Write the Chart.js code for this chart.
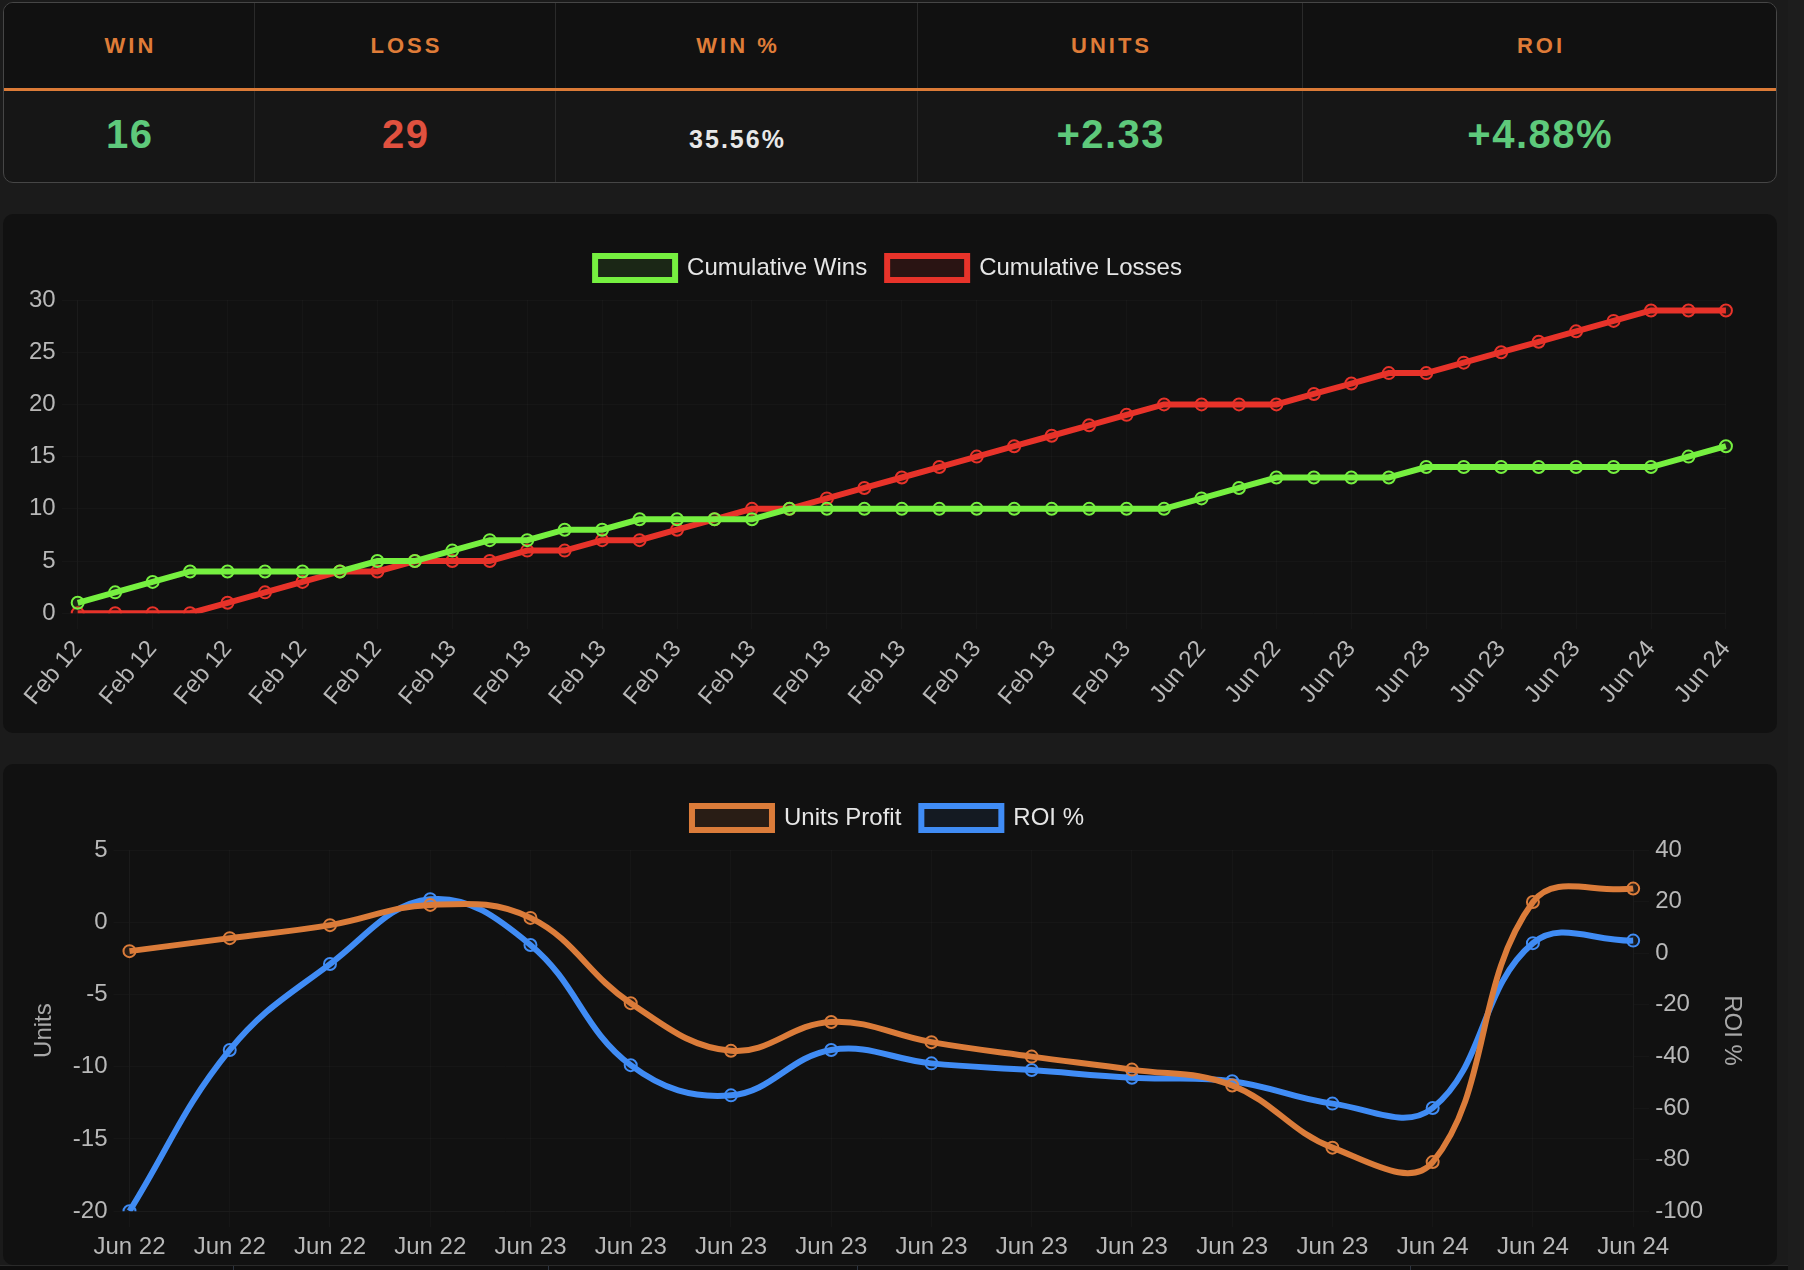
<!DOCTYPE html>
<html>
<head>
<meta charset="utf-8">
<script src="https://cdn.jsdelivr.net/npm/chart.js@4.4.0/dist/chart.umd.min.js"></script>
<style>
html,body{margin:0;padding:0;background:#1b1b1b;width:1804px;height:1270px;overflow:hidden;font-family:"Liberation Sans",Arial,Helvetica,sans-serif;}
#rail{position:absolute;left:1788px;top:0;width:16px;height:1270px;background:#1d1d1d;}
#stats{position:absolute;left:3px;top:2px;width:1772px;height:179px;border:1px solid #464646;border-radius:10px;overflow:hidden;background:#161616;}
#stats .hdrbg{position:absolute;left:0;top:0;width:1772px;height:85px;background:#111111;}
#stats .orange{position:absolute;left:0;top:85px;width:1772px;height:3px;background:#dc7b37;}
#stats .div{position:absolute;top:0;width:1px;height:179px;background:#2a2a2a;}
#stats .h{position:absolute;top:0;height:85px;line-height:85px;text-align:center;color:#df7c38;font-weight:bold;font-size:22px;letter-spacing:3px;text-indent:3px;}
#stats .v{position:absolute;text-align:center;font-weight:bold;}
#stats .big{top:111px;height:40px;line-height:40px;font-size:40px;letter-spacing:1.5px;text-indent:1.5px;}
#stats .small{top:124px;height:25px;line-height:25px;font-size:25px;letter-spacing:2px;text-indent:2px;color:#e8e8e8;}
.card{position:absolute;left:3px;width:1774px;background:#111111;border-radius:10px;overflow:hidden;}
#card1{top:214px;height:519px;}
#card2{top:764px;height:501px;}
canvas{position:absolute;}
#c1{left:23px;top:236px;}
#c2{left:22px;top:786px;}
#below{position:absolute;left:0;top:1265px;width:1788px;height:5px;background:#0e0e0e;border-top:1px solid #2a2a2a;}
#below i{position:absolute;top:0;width:1px;height:5px;background:#2c3440;}
</style>
</head>
<body>
<div id="rail"></div>
<div id="stats">
  <div class="hdrbg"></div>
  <div class="div" style="left:250px"></div>
  <div class="div" style="left:551px"></div>
  <div class="div" style="left:913px"></div>
  <div class="div" style="left:1298px"></div>
  <div class="orange"></div>
  <div class="h" style="left:0;width:250px">WIN</div>
  <div class="h" style="left:251px;width:300px">LOSS</div>
  <div class="h" style="left:552px;width:361px">WIN %</div>
  <div class="h" style="left:914px;width:384px">UNITS</div>
  <div class="h" style="left:1299px;width:473px">ROI</div>
  <div class="v big" style="left:0;width:250px;color:#5ec97b">16</div>
  <div class="v big" style="left:251px;width:300px;color:#e0513f">29</div>
  <div class="v small" style="left:552px;width:361px">35.56%</div>
  <div class="v big" style="left:914px;width:384px;color:#5ec97b">+2.33</div>
  <div class="v big" style="left:1299px;width:473px;color:#5ec97b">+4.88%</div>
</div>
<div class="card" id="card1"></div>
<div class="card" id="card2"></div>
<canvas id="c1" width="1731" height="481"></canvas>
<canvas id="c2" width="1732" height="482"></canvas>
<div id="below"><i style="left:233px"></i><i style="left:548px"></i><i style="left:857px"></i><i style="left:1410px"></i></div>
<script>
// ---- Data ----
const gameDates = [
  'Feb 12','Feb 12','Feb 12','Feb 12','Feb 12','Feb 12','Feb 12','Feb 12','Feb 12','Feb 12',
  'Feb 13','Feb 13','Feb 13','Feb 13','Feb 13','Feb 13','Feb 13','Feb 13','Feb 13','Feb 13',
  'Feb 13','Feb 13','Feb 13','Feb 13','Feb 13','Feb 13','Feb 13','Feb 13','Feb 13',
  'Jun 22','Jun 22','Jun 22','Jun 22',
  'Jun 23','Jun 23','Jun 23','Jun 23','Jun 23','Jun 23','Jun 23','Jun 23','Jun 23',
  'Jun 24','Jun 24','Jun 24'
];
const cumWins = [1,2,3,4,4,4,4,4,5,5,6,7,7,8,8,9,9,9,9,10,10,10,10,10,10,10,10,10,10,10,11,12,13,13,13,13,14,14,14,14,14,14,14,15,16];
const cumLosses = [0,0,0,0,1,2,3,4,4,5,5,5,6,6,7,7,8,9,10,10,11,12,13,14,15,16,17,18,19,20,20,20,20,21,22,23,23,24,25,26,27,28,29,29,29];

const profitDates = ['Jun 22','Jun 22','Jun 22','Jun 22','Jun 23','Jun 23','Jun 23','Jun 23','Jun 23','Jun 23','Jun 23','Jun 23','Jun 23','Jun 24','Jun 24','Jun 24'];
const unitsProfit = [-2.0,-1.1,-0.2,1.2,0.3,-5.6,-8.9,-6.9,-8.3,-9.3,-10.2,-11.3,-15.6,-16.6,1.4,2.33];
const roiPct = [-100,-37.5,-4.2,20.9,3.2,-43.4,-55.1,-37.5,-42.7,-45.3,-48.3,-49.6,-58.3,-60.0,3.9,4.88];

// ---- Styling ----
const FONT = {family:"'Liberation Sans', Arial, Helvetica, sans-serif", size:24};
const TICK = '#b8b8b8';
const GRID = 'rgba(255,255,255,0.022)';
Chart.defaults.font = FONT;

const legendMargin = {
  id:'legendMargin',
  beforeInit(chart){
    const lg = chart.legend;
    const orig = lg.fit;
    lg.fit = function(){ orig.call(this); this.height += 10; };
  }
};

function lineDs(label, data, color, fillc, tension, extra){
  return Object.assign({label, data, borderColor:color, backgroundColor:fillc,
    pointBorderColor:color, pointBackgroundColor:fillc,
    borderWidth:6, pointRadius:6, pointBorderWidth:2, tension, fill:false}, extra||{});
}
const legendOpts = {labels:{color:'#e6e6e6', font:FONT, boxWidth:80, padding:20}};

new Chart(document.getElementById('c1'), {
  type:'line',
  data:{labels:gameDates, datasets:[
    lineDs('Cumulative Wins', cumWins, '#76f040', 'rgba(118,240,64,0.1)', 0),
    lineDs('Cumulative Losses', cumLosses, '#e8332a', 'rgba(232,51,42,0.12)', 0)
  ]},
  options:{responsive:false, animation:false, devicePixelRatio:1,
    plugins:{legend:legendOpts, tooltip:{enabled:false}},
    scales:{
      x:{ticks:{color:TICK, font:FONT, padding:6, autoSkipPadding:6}, grid:{color:GRID, tickLength:16}, border:{color:GRID}},
      y:{min:0, max:30, ticks:{stepSize:5, color:TICK, font:FONT, padding:6}, grid:{color:GRID, tickLength:16}, border:{color:GRID}}
    }
  },
  plugins:[legendMargin]
});

new Chart(document.getElementById('c2'), {
  type:'line',
  data:{labels:profitDates, datasets:[
    lineDs('Units Profit', unitsProfit, '#db7c3a', 'rgba(219,124,58,0.12)', 0.4, {yAxisID:'y'}),
    lineDs('ROI %', roiPct, '#408cf5', 'rgba(64,140,245,0.08)', 0.4, {yAxisID:'y1'})
  ]},
  options:{responsive:false, animation:false, devicePixelRatio:1,
    plugins:{legend:legendOpts, tooltip:{enabled:false}},
    scales:{
      x:{ticks:{color:TICK, font:FONT, padding:6, maxRotation:0}, grid:{color:GRID, tickLength:16}, border:{color:GRID}},
      y:{position:'left', min:-20, max:5, ticks:{stepSize:5, color:TICK, font:FONT, padding:6},
         title:{display:true, text:'Units', color:'#a8a8a8', font:FONT, padding:{top:8,bottom:8}},
         grid:{color:GRID, tickLength:16}, border:{color:GRID}},
      y1:{position:'right', min:-100, max:40, ticks:{stepSize:20, color:TICK, font:FONT, padding:6},
         title:{display:true, text:'ROI %', color:'#a8a8a8', font:FONT, padding:{top:8,bottom:8}},
         grid:{drawOnChartArea:false, color:GRID, tickLength:16}, border:{color:GRID}}
    }
  },
  plugins:[legendMargin]
});
</script>
</body>
</html>
